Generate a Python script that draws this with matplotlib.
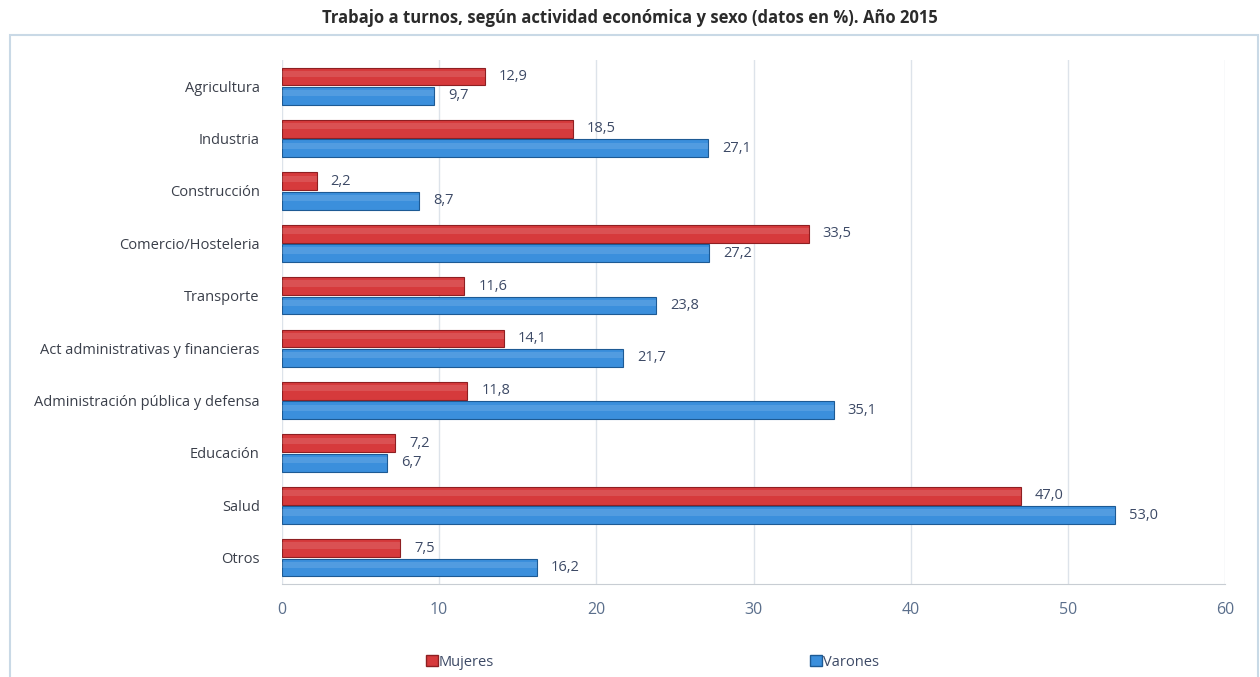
import matplotlib
matplotlib.use("Agg")
import matplotlib.pyplot as plt
from matplotlib.patches import Rectangle, Patch
import numpy as np

categories = ["Agricultura", "Industria", "Construcción", "Comercio/Hosteleria", "Transporte",
              "Act administrativas y financieras", "Administración pública y defensa",
              "Educación", "Salud", "Otros"]
mujeres = [12.9, 18.5, 2.2, 33.5, 11.6, 14.1, 11.8, 7.2, 47.0, 7.5]
varones = [9.7, 27.1, 8.7, 27.2, 23.8, 21.7, 35.1, 6.7, 53.0, 16.2]
xticks = [0, 10, 20, 30, 40, 50, 60]
title = "Trabajo a turnos, según actividad económica y sexo (datos en %). Año 2015"

plt.rcParams['font.family'] = ['Open Sans', 'DejaVu Sans']

W, H = 1260, 677
fig = plt.figure(figsize=(W/100, H/100), dpi=100)
ax = fig.add_axes([282/W, 1-584/H, (1225-282)/W, (584-60)/H])

red = "#d63a3c"; red_edge = "#8e1f22"
blue = "#3b8fdc"; blue_edge = "#1d5a94"
h = 0.34
off = 0.185
y = np.arange(len(categories))
ax.barh(y - off, mujeres, height=h, color=red, edgecolor=red_edge, linewidth=0.8, zorder=3)
ax.barh(y + off, varones, height=h, color=blue, edgecolor=blue_edge, linewidth=0.8, zorder=3)
# soft highlight for a glossy look
ax.barh(y - off - h*0.15, mujeres, height=h*0.35, color="white", alpha=0.12, linewidth=0, zorder=4)
ax.barh(y + off - h*0.15, varones, height=h*0.35, color="white", alpha=0.12, linewidth=0, zorder=4)

lab_col = "#3d4a66"
for i in range(len(categories)):
    ax.text(mujeres[i] + 0.9, y[i] - off, f"{mujeres[i]:.1f}".replace(".", ","),
            va="center", ha="left", fontsize=10.5, color=lab_col)
    ax.text(varones[i] + 0.9, y[i] + off, f"{varones[i]:.1f}".replace(".", ","),
            va="center", ha="left", fontsize=10.5, color=lab_col)

ax.set_xlim(0, 60)
ax.set_ylim(len(categories) - 0.5, -0.5)
ax.set_yticks(y)
ax.set_yticklabels(categories, fontsize=10.5, color="#3a3f4a")
ax.set_xticks(xticks)
ax.set_xticklabels([str(t) for t in xticks], fontsize=11.5, color="#5b6f8c")
ax.tick_params(axis="y", length=0, pad=16)
ax.tick_params(axis="x", length=0, pad=13)
ax.grid(axis="x", color="#dde3ea", linewidth=1, zorder=0)
for s in ["top", "right", "left"]:
    ax.spines[s].set_visible(False)
ax.spines["bottom"].set_color("#c8cdd3")

fig.text(0.5, 1-18/H, title, ha="center", va="center", fontsize=12,
         fontweight="bold", color="#2b2b2b")

fig.patches.append(Rectangle((10/W, -0.01), (W-12)/W, 1-35/H+0.01, transform=fig.transFigure,
                             fill=False, edgecolor="#c9d9e6", linewidth=1.5, zorder=0))

handles = [Patch(facecolor=red, edgecolor=red_edge), Patch(facecolor=blue, edgecolor=blue_edge)]
fig.legend(handles[:1], ["Mujeres"], loc="center left", bbox_to_anchor=(426/W, 1-662/H),
           frameon=False, fontsize=10.5, handlelength=0.8, handleheight=0.8, handletextpad=0.1,
           labelcolor="#3d4a66", borderpad=0, borderaxespad=0)
fig.legend(handles[1:], ["Varones"], loc="center left", bbox_to_anchor=(810/W, 1-662/H),
           frameon=False, fontsize=10.5, handlelength=0.8, handleheight=0.8, handletextpad=0.1,
           labelcolor="#3d4a66", borderpad=0, borderaxespad=0)

fig.savefig("out.png", dpi=100)
